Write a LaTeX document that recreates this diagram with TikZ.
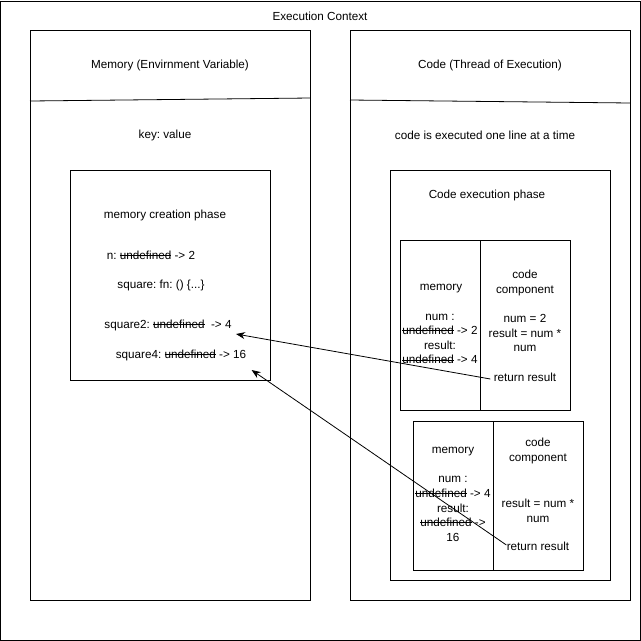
\documentclass[tikz,border=0pt]{standalone}
\usepackage{fontspec}
\setmainfont{Liberation Sans}
\usetikzlibrary{arrows.meta}
\frenchspacing
\newsavebox\strkbox
\newcommand\strk[1]{\sbox\strkbox{#1}\rlap{\usebox\strkbox}\rule[0.32em]{\wd\strkbox}{0.7pt}}

\begin{document}
\begin{tikzpicture}[x=1pt,y=-1pt,>={Stealth[length=9pt,width=7pt]},line width=0.8pt,
  every node/.style={font=\fontsize{11.7pt}{14.6pt}\selectfont,align=center,inner sep=0pt},
  box/.style={draw,anchor=north west,inner sep=0pt},
  txt/.style={}]
  \useasboundingbox (0,0) rectangle (641,641);

  % frames
  \node[box,minimum width=639pt,minimum height=639pt] (ctx) at (0.5,0.5) {};
  \node[txt] (title) at (320,16) {Execution Context};
  \node[box,minimum width=280pt,minimum height=570pt] (mem) at (30,30) {};
  \node[box,minimum width=280pt,minimum height=570pt] (code) at (350,30) {};
  \draw ([yshift=-71pt]mem.north west) -- ([yshift=-68pt]mem.north east);
  \draw ([yshift=-70pt]code.north west) -- ([yshift=-73pt]code.north east);
  \node[txt] (memhead) at (170,65) {Memory (Envirnment Variable)};
  \node[txt] (codehead) at (490,65) {Code (Thread of Execution)};
  \node[txt] (kv) at (165,135) {key: value};
  \node[txt] (oneline) at (485,135) {code is executed one line at a time};

  % memory creation phase
  \node[box,minimum width=200pt,minimum height=210pt] (create) at (70,170) {};
  \node[txt] (createhead) at (165,215) {memory creation phase};
  \node[txt] (n) at (151,255) {n: \strk{undefined} -> 2};
  \node[txt] (sq) at (161,285) {square: fn: () \{...\}};
  \node[txt] (sq2) at (168,325) {square2: \strk{undefined}\ \ -> 4};
  \node[txt] (sq4) at (181,355) {square4: \strk{undefined} -> 16};

  % code execution phase
  \node[box,minimum width=220pt,minimum height=410pt] (exec) at (390,170) {};
  \node[txt] (exechead) at (487,195) {Code execution phase};

  % first call
  \node[box,minimum width=80pt,minimum height=170pt] (mem1) at (400,240) {};
  \node[box,minimum width=90pt,minimum height=170pt] (cc1) at (480,240) {};
  \node[txt] (memlab1) at (441,289) {memory};
  \node[txt] (vars1) at (440,339) {num :\\\strk{undefined} -> 2\\result:\\\strk{undefined} -> 4};
  \node[txt] (cclab1) at (525,283) {code\\component};
  \node[txt] (body1) at (525,333) {num = 2\\result = num *\\num};
  \node[txt] (ret1) at (525,377) {return result};

  % second call
  \node[box,minimum width=80pt,minimum height=149pt] (mem2) at (413,421) {};
  \node[box,minimum width=90pt,minimum height=149pt] (cc2) at (493,421) {};
  \node[txt] (memlab2) at (453,452) {memory};
  \node[txt] (vars2) at (453,509) {num :\\\strk{undefined} -> 4\\result:\\\strk{undefined} ->\\16};
  \node[txt] (cclab2) at (538,451) {code\\component};
  \node[txt] (body2) at (538,511) {result = num *\\num};
  \node[txt] (ret2) at (538,546) {return result};

  % returns
  \draw[->] ([shift={(-3,2)}]ret1.west) -- ([shift={(4,9)}]sq2.east);
  \draw[->] ([shift={(0,-1)}]ret2.west) -- ([shift={(5,15)}]sq4.east);
\end{tikzpicture}
\end{document}
